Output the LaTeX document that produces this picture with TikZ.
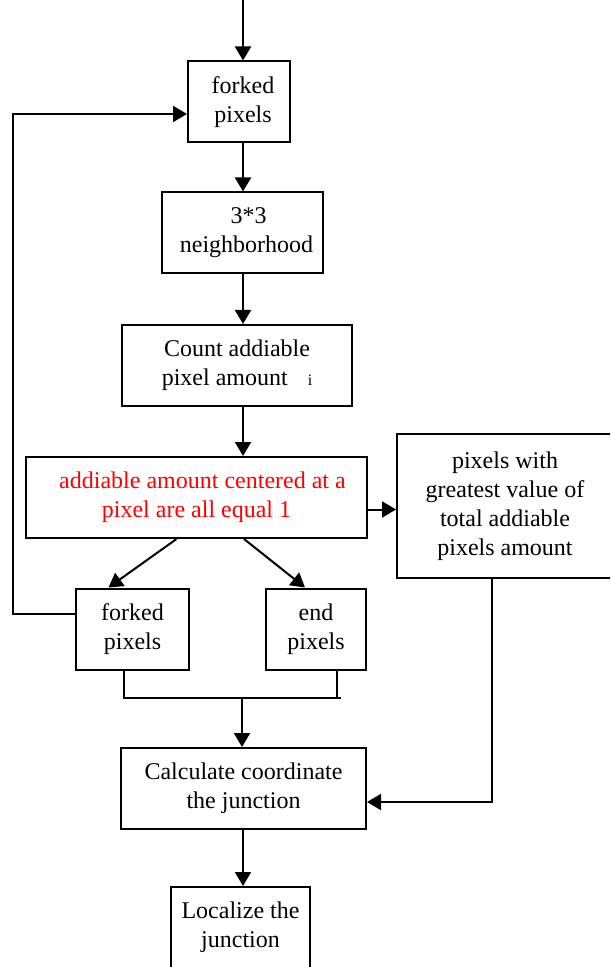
\documentclass[tikz,border=0pt]{standalone}
\usepackage{fontspec}
\setmainfont{Liberation Serif}
\usetikzlibrary{positioning}
\usetikzlibrary{arrows.meta}

\begin{document}
\begin{tikzpicture}[x=0.5pt,y=-0.5pt,line width=1pt]
    \tikzset{>={Triangle[length=7pt,width=8pt]}}
    \tikzset{base/.style = {rectangle, draw=black, line width=1pt,
                           minimum height=40.5pt, inner sep=0pt,
                           align=center, font=\fontsize{12}{14.5}\selectfont}}
    \tikzset{step1/.style = {base, minimum width=51pt}}
    \tikzset{alert/.style = {base, text=red}}

    \useasboundingbox (0,0) rectangle (610,967);
    \clip (0,0) rectangle (610,967);

    \coordinate (top) at (243,0);
    \node (fork) [step1] at (239,102) {\hspace{4pt}forked\\\hspace{4pt}pixels};
    \node (nbhd) [base, minimum width=80.5pt] at (242.5,233) {\hspace{6pt}3*3\\\hspace{4pt}neighborhood};
    \node (count) [base, minimum width=115pt] at (237,365.5)
        {Count addiable\\pixel amount\hspace{10pt}{\fontsize{8}{9}\selectfont i}};
    \node (equal) [alert, minimum width=170.5pt] at (196.5,497.5)
        {\hspace{6pt}addiable amount centered at a\\pixel are all equal 1};
    \node (great) [base, minimum width=108pt, minimum height=72pt] at (505,506)
        {pixels with\\greatest value of\\total addiable\\pixels amount};
    \node (fork2) [base, minimum width=56.5pt] at (132.5,629) {forked\\pixels};
    \node (endp) [base, minimum width=50pt] at (316,629) {end\\pixels};
    \node (calc) [base, minimum width=122.5pt] at (243.5,788.5)
        {Calculate coordinate\\the junction};
    \node (local) [base, minimum width=69.5pt] at (240.5,927.5)
        {Localize the\\junction};

    \coordinate (loop) at (13,114);
    \coordinate (bend) at (341,698);
    \coordinate (join) at (242,698);

    % main column
    \draw[->] (top) -- (top |- fork.north);
    \draw[->] (fork.south -| top) -- (nbhd.north -| top);
    \draw[->] (nbhd.south -| top) -- (count.north -| top);
    \draw[->] (count.south -| top) -- (equal.north -| top);
    \draw[->] ([yshift=-6pt]equal.east) -- ([yshift=-6pt]equal.east -| great.west);
    \draw[->] ([xshift=-10pt]equal.south) -- ([xshift=-12pt]fork2.north);
    \draw[->] ([xshift=23.75pt]equal.south) -- ([xshift=-5.5pt]endp.north);

    % back to the forked pixels
    \draw[->] ([yshift=7.5pt]fork2.west) -| (loop) -- ([yshift=-6pt]fork.west);

    % join of both kinds
    \draw ([xshift=-4.25pt]fork2.south) |- (bend);
    \draw ([xshift=10.5pt]endp.south) -- ([xshift=10.5pt]endp.south |- bend);
    \draw[->] (join) -- (join |- calc.north);
    \draw[->] ([xshift=-6.5pt]great.south) |- ([yshift=-6.75pt]calc.east);
    \draw[->] (calc.south -| top) -- (local.north -| top);

\end{tikzpicture}
\end{document}
